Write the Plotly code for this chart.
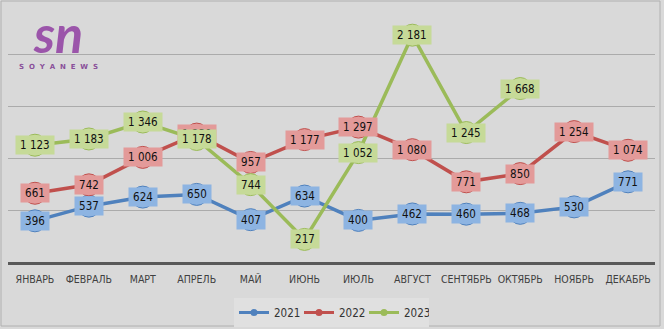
import plotly.graph_objects as go

months = ["ЯНВАРЬ", "ФЕВРАЛЬ", "МАРТ", "АПРЕЛЬ", "МАЙ", "ИЮНЬ",
          "ИЮЛЬ", "АВГУСТ", "СЕНТЯБРЬ", "ОКТЯБРЬ", "НОЯБРЬ", "ДЕКАБРЬ"]

v2021 = [396, 537, 624, 650, 407, 634, 400, 462, 460, 468, 530, 771]
v2022 = [661, 742, 1006, 1230, 957, 1177, 1297, 1080, 771, 850, 1254, 1074]
v2023 = [1123, 1183, 1346, 1178, 744, 217, 1052, 2181, 1245, 1668]

series = [
    ("2021", v2021, "#4f81bd", "#8db4e2", "#4f81bd"),
    ("2022", v2022, "#c0504d", "#e39a99", "#c0504d"),
    ("2023", v2023, "#9bbb59", "#c6da98", "#9bbb59"),
]

FONT = "DejaVu Sans Condensed, DejaVu Sans, sans-serif"

W, H = 664, 329
ML, MR, MT, MB = 8, 9, 2, 67
PW, PH = W - ML - MR, H - MT - MB


def px(x):
    return (x - ML) / PW


def py(y):
    return (H - MB - y) / PH


def fmt(v):
    return f"{v:,}".replace(",", " ")


fig = go.Figure()

for name, vals, line_c, fill_c, edge_c in series:
    fig.add_trace(go.Scatter(
        x=months[:len(vals)], y=vals, mode="lines+markers", name=name,
        showlegend=False, cliponaxis=False,
        line=dict(color=line_c, width=3.5),
        marker=dict(size=22, color=fill_c, line=dict(color=edge_c, width=1)),
        hoverinfo="skip",
    ))

# legend entries with small markers
for name, vals, line_c, fill_c, edge_c in series:
    fig.add_trace(go.Scatter(
        x=[None], y=[None], mode="lines+markers", name=name,
        line=dict(color=line_c, width=3),
        marker=dict(size=7, color=line_c),
    ))

annotations = []
for name, vals, line_c, fill_c, edge_c in series:
    for m, v in zip(months, vals):
        annotations.append(dict(
            x=m, y=v, xref="x", yref="y", text="\u2009" + fmt(v) + "\u2009",
            showarrow=False, bgcolor=fill_c, borderpad=2,
            font=dict(family=FONT, size=11.5, color="#111111"),
        ))

# logo
annotations.append(dict(
    x=px(58), y=py(33), xref="paper", yref="paper", text="<b><i>sn</i></b>",
    showarrow=False, xanchor="center", yanchor="middle",
    font=dict(family="Lato, DejaVu Sans", size=52, color="#9b55aa"),
))
annotations.append(dict(
    x=px(58), y=py(67), xref="paper", yref="paper",
    text="<b>" + "\u00a0\u00a0".join("SOYANEWS") + "</b>",
    showarrow=False, xanchor="center", yanchor="middle",
    font=dict(family="DejaVu Sans", size=7, color="#8a4f9a"),
))

fig.update_layout(
    width=W, height=H,
    margin=dict(l=ML, r=MR, t=MT, b=MB),
    paper_bgcolor="#d9d9d9", plot_bgcolor="#d9d9d9",
    annotations=annotations,
    showlegend=True,
    legend=dict(
        orientation="h", x=0.5, xanchor="center", y=py(298), yanchor="top",
        bgcolor="#e0e0e0",
        font=dict(family=FONT, size=11.5, color="#333333"),
        itemwidth=30, tracegroupgap=0,
        entrywidth=20, entrywidthmode="pixels",
    ),
    xaxis=dict(
        type="category", categoryorder="array", categoryarray=months,
        range=[-0.5, 11.5], showgrid=False, zeroline=False,
        showline=True, linecolor="#595959", linewidth=2.5,
        ticks="", tickangle=0,
        tickfont=dict(family=FONT, size=10.5, color="#404040"),
        ticklabelstandoff=6,
    ),
    yaxis=dict(
        range=[0, 2500], dtick=500, showgrid=True, gridcolor="#ababab",
        gridwidth=1, zeroline=False, showticklabels=False, showline=False,
    ),
    shapes=[dict(
        type="rect", xref="paper", yref="paper",
        x0=px(1), x1=px(660), y0=py(326), y1=py(1),
        line=dict(color="#b0b0b0", width=1), layer="below",
    )],
)

fig.write_html("out.html")
